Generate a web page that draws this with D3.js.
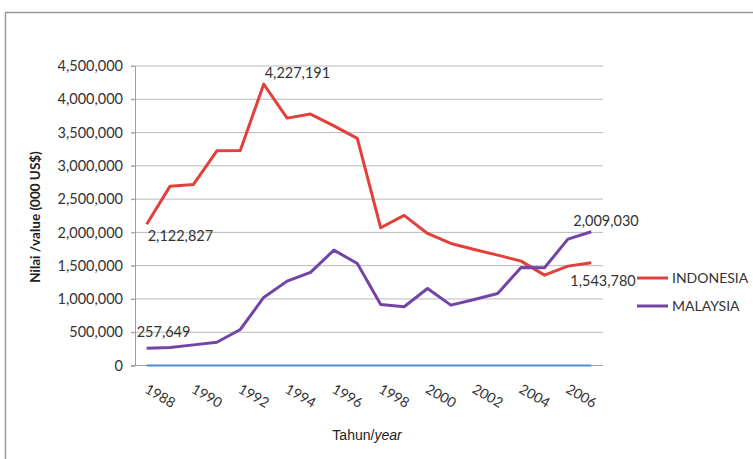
<!DOCTYPE html>
<html><head><meta charset="utf-8">
<script src="https://cdn.jsdelivr.net/npm/d3@7/dist/d3.min.js"></script>
<style>html,body{margin:0;padding:0;background:#fff;}svg{display:block;}</style>
</head><body>
<script>
const years = d3.range(1988, 2008);
const tickYears = [1988,1990,1992,1994,1996,1998,2000,2002,2004,2006];
const indonesia = [2122827,2695000,2720000,3226000,3231000,4227191,3717000,3778000,3600000,3412000,
                   2069000,2255000,1984000,1834000,1743000,1658000,1568000,1358000,1493000,1543780];
const malaysia = [257649,270000,310000,350000,541000,1022000,1268000,1398000,1733000,1533000,
                  917000,882000,1157000,907000,992000,1082000,1473000,1468000,1899000,2009030];
const baseline = years.map(() => 0);
const yTicks = [0,500000,1000000,1500000,2000000,2500000,3000000,3500000,4000000,4500000];
const seriesNames = ["INDONESIA","MALAYSIA"];
const colors = ["#e2403c","#7443a8"];

const W = 753, H = 459;
const svg = d3.select("body").append("svg").attr("width", W).attr("height", H);
svg.append("rect").attr("x",5.5).attr("y",12.5).attr("width",800).attr("height",500)
  .attr("fill","none").attr("stroke","#9a9a9a").attr("stroke-width",1.5);

const x = d3.scaleBand().domain(years).range([135, 603]);
const y = d3.scaleLinear().domain([0, 4500000]).range([365.5, 66]);
const cx = d => x(d) + x.bandwidth()/2;
const fmt = d3.format(",");
const numFont = "Lato, 'Open Sans', sans-serif";

// gridlines
svg.append("g").selectAll("line").data(yTicks.slice(1)).join("line")
  .attr("x1",131).attr("x2",603).attr("y1",d=>y(d)).attr("y2",d=>y(d))
  .attr("stroke","#b9b9b9").attr("stroke-width",1);
// y axis
const ya = svg.append("g").attr("transform","translate(135,0)")
  .call(d3.axisLeft(y).tickValues(yTicks).tickFormat(fmt).tickSize(4).tickPadding(8));
ya.select(".domain").attr("stroke","#a0a0a0");
ya.selectAll(".tick line").attr("stroke","#a0a0a0");
ya.selectAll("text").attr("font-family",numFont).attr("font-size",14.5).attr("fill","#333");
svg.append("line").attr("x1",131).attr("x2",603).attr("y1",y(0)).attr("y2",y(0)).attr("stroke","#a0a0a0");

// x tick labels
svg.append("g").selectAll("text").data(tickYears).join("text")
  .attr("transform", d => `translate(${cx(d)-3},${392}) rotate(30)`)
  .attr("font-family",numFont).attr("font-size",14).attr("fill","#333")
  .text(d => d);

// lines
const line = d3.line().x((d,i)=>cx(years[i])).y(d=>y(d));
svg.append("path").datum(baseline).attr("d",line).attr("fill","none")
  .attr("stroke","#4f8cc9").attr("stroke-width",2);
[indonesia, malaysia].forEach((s,k)=>{
  svg.append("path").datum(s).attr("d",line).attr("fill","none")
    .attr("stroke",colors[k]).attr("stroke-width",3).attr("stroke-linejoin","round");
});

// data labels
const labels = [
  {s:indonesia, i:0, dx:1, dy:17},
  {s:indonesia, i:5, dx:1, dy:-6},
  {s:indonesia, i:19, dx:-21, dy:23},
  {s:malaysia, i:0, dx:-10, dy:-11},
  {s:malaysia, i:19, dx:-18, dy:-6}
];
svg.append("g").selectAll("text").data(labels).join("text")
  .attr("x", d => cx(years[d.i]) + d.dx)
  .attr("y", d => y(d.s[d.i]) + d.dy)
  .attr("font-family",numFont).attr("font-size",14.5).attr("fill","#333")
  .text(d => fmt(d.s[d.i]));

// legend
const lg = svg.append("g").selectAll("g").data(seriesNames).join("g")
  .attr("transform",(d,i)=>`translate(637,${278 + i*28})`);
lg.append("line").attr("x1",0).attr("x2",31).attr("stroke",(d,i)=>colors[i]).attr("stroke-width",3);
lg.append("text").attr("x",35).attr("y",5).attr("font-family",numFont).attr("font-size",14)
  .attr("fill","#333").text(d=>d);

// axis titles
svg.append("text").attr("transform","translate(40,217) rotate(-90)").attr("text-anchor","middle")
  .attr("font-family","Lato, sans-serif").attr("font-weight","bold").attr("font-size",13.5).attr("fill","#222")
  .text("Nilai /value (000 US$)");
const xt = svg.append("text").attr("x",367).attr("y",440).attr("text-anchor","middle")
  .attr("font-family","'Liberation Sans', Arial, sans-serif").attr("font-size",14).attr("fill","#222");
xt.append("tspan").text("Tahun/");
xt.append("tspan").attr("font-style","italic").text("year");
</script>
</body></html>
